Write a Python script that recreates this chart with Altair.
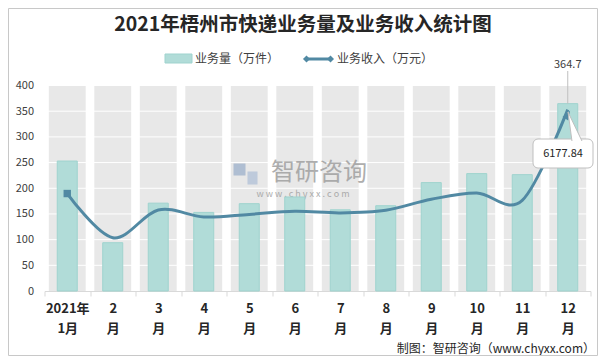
import altair as alt
import pandas as pd

# ---------------- data ----------------
months = ["2021年|1月", "2|月", "3|月", "4|月", "5|月", "6|月",
          "7|月", "8|月", "9|月", "10|月", "11|月", "12|月"]
volume = [253, 94, 171, 153, 170, 183, 158, 166, 211, 228.5, 226.5, 364.7]        # 业务量（万件）
revenue = [3320, 1815, 2760, 2520, 2610, 2715, 2660, 2750, 3125, 3340, 3090, 6177.84]  # 业务收入（万元）
y_ticks = [0, 50, 100, 150, 200, 250, 300, 350, 400]
grid_vals = [50, 100, 150, 200, 250, 300, 350, 400]

title_text = "2021年梧州市快递业务量及业务收入统计图"
legend_bar = "业务量（万件）"
legend_line = "业务收入（万元）"
source_text = "制图：智研咨询（www.chyxx.com）"

FONT = "Noto Sans CJK SC"
BAR = "#b1dcd8"
LINE = "#5189a3"

df = pd.DataFrame({"month": months, "volume": volume, "revenue": revenue})
first = df.iloc[[0]]
last = df.iloc[[-1]]
grid_df = pd.DataFrame({"v": grid_vals})
one = pd.DataFrame({"a": [0]})

x_enc = alt.X(
    "month:N", sort=None, title=None,
    scale=alt.Scale(paddingInner=0, paddingOuter=0),
    axis=alt.Axis(
        labelExpr="split(datum.label, '|')", labelAngle=0, labelFont=FONT,
        labelFontSize=13, labelFontWeight="bold", labelColor="#262626",
        labelLineHeight=20, labelPadding=6, tickBand="extent", tickSize=5,
        tickColor="#d9d9d9", domainColor="#d9d9d9", grid=False,
    ),
)
y_scale = alt.Scale(domain=[0, 400], nice=False)
y_axis = alt.Axis(values=y_ticks, labelFont=FONT, labelFontSize=11,
                  labelColor="#404040", domain=False, ticks=False,
                  grid=False, labelPadding=11, labelOverlap=False)

bg = alt.Chart(df).mark_bar(width=alt.RelativeBandSize(0.81), color="#e8e8e8").encode(
    x=x_enc,
    y=alt.YDatum(400, scale=y_scale, title=None, axis=y_axis),
    y2=alt.Y2Datum(0),
)
grid = alt.Chart(grid_df).mark_rule(color="white", strokeWidth=1).encode(
    y=alt.Y("v:Q", scale=y_scale, title=None, axis=y_axis)
)
bars = alt.Chart(df).mark_bar(
    width=alt.RelativeBandSize(0.44), color=BAR, stroke="#9fd3ce", strokeWidth=1
).encode(
    x=x_enc,
    y=alt.Y("volume:Q", scale=y_scale, title=None, axis=y_axis),
)
vol_label = alt.Chart(last).mark_text(
    font=FONT, fontSize=11, color="#404040", dy=-38.5, baseline="middle"
).encode(x=x_enc, y=alt.Y("volume:Q", scale=y_scale, title=None, axis=y_axis),
         text=alt.Text("volume:Q", format=".1f"))
leader = alt.Chart(last).mark_rule(color="#bfbfbf", strokeWidth=1).encode(
    x=x_enc, y=alt.Y("volume:Q", scale=y_scale, title=None, axis=y_axis), y2=alt.value(-14.5)
)

logo1 = alt.Chart(one).mark_rect(fill="#a9b9cf", opacity=0.9).encode(
    x=alt.value(189), x2=alt.value(201), y=alt.value(78), y2=alt.value(90))
logo2 = alt.Chart(one).mark_rect(fill="#b9c7d9", opacity=0.9).encode(
    x=alt.value(203), x2=alt.value(213), y=alt.value(86), y2=alt.value(99))
wm1 = alt.Chart(one).mark_text(
    text="智研咨询", font=FONT, fontSize=24, color="#a0a0a0", opacity=0.85
).encode(x=alt.value(274.5), y=alt.value(87))
wm2 = alt.Chart(one).mark_text(
    text="w w w . c h y x x . c o m", font=FONT, fontSize=9, color="#a0a0a0", opacity=0.85
).encode(x=alt.value(258.5), y=alt.value(108.5))

left = alt.layer(bg, grid, logo1, logo2, wm1, wm2, bars, leader, vol_label)

r_scale = alt.Scale(domain=[0, 7000], nice=False)
line = alt.Chart(df).mark_line(
    color=LINE, strokeWidth=3, interpolate="cardinal"
).encode(x=x_enc, y=alt.Y("revenue:Q", scale=r_scale, axis=None, title=None))
start = alt.Chart(first).mark_point(
    shape="square", filled=True, color=LINE, size=55, opacity=1
).encode(x=x_enc, y=alt.Y("revenue:Q", scale=r_scale, axis=None, title=None))
arrow = alt.Chart(last).mark_point(
    shape="M0,-1L0.7,1L-0.7,1Z", filled=True, color=LINE, size=90, angle=30, opacity=1
).encode(x=x_enc, y=alt.Y("revenue:Q", scale=r_scale, axis=None, title=None),
         yOffset=alt.value(5))
right = alt.layer(line, start, arrow)

# ---------------- annotations ----------------
box = alt.Chart(one).mark_rect(
    fill="white", stroke="#bfbfbf", strokeWidth=1, cornerRadius=5
).encode(x=alt.value(488.5), x2=alt.value(548.5), y=alt.value(53.5), y2=alt.value(82.5))
pointer = alt.Chart(one).mark_point(
    shape="M-0.21,1L-0.48,-1L0.48,1", filled=True, fill="white", stroke="#bfbfbf",
    strokeWidth=1, size=841, opacity=1
).encode(x=alt.value(530.5), y=alt.value(41))
box_text = alt.Chart(last).mark_text(
    font=FONT, fontSize=11, color="#262626", baseline="middle"
).encode(x=alt.value(518.5), y=alt.value(68), text=alt.Text("revenue:Q", format=".2f"))

title = alt.Chart(one).mark_text(
    text=title_text, font=FONT, fontSize=19.5, fontWeight="bold", color="#262626",
    baseline="middle"
).encode(x=alt.value(258.5), y=alt.value(-60.5))

swatch = alt.Chart(one).mark_rect(fill=BAR, stroke="#9fd3ce").encode(
    x=alt.value(120.5), x2=alt.value(147.5), y=alt.value(-31.5), y2=alt.value(-22.5))
leg1 = alt.Chart(one).mark_text(
    text=legend_bar, font=FONT, fontSize=12, color="#404040", align="left", baseline="middle"
).encode(x=alt.value(150.5), y=alt.value(-26.5))
leg_line = alt.Chart(one).mark_rule(color=LINE, strokeWidth=3).encode(
    x=alt.value(262), x2=alt.value(286), y=alt.value(-26.5))
leg_d1 = alt.Chart(one).mark_point(shape="diamond", filled=True, color=LINE, size=50, opacity=1).encode(
    x=alt.value(262), y=alt.value(-26.5))
leg_d2 = alt.Chart(one).mark_point(shape="diamond", filled=True, color=LINE, size=50, opacity=1).encode(
    x=alt.value(286), y=alt.value(-26.5))
leg2 = alt.Chart(one).mark_text(
    text=legend_line, font=FONT, fontSize=12, color="#404040", align="left", baseline="middle"
).encode(x=alt.value(292.5), y=alt.value(-26.5))

source = alt.Chart(one).mark_text(
    text=source_text, font=FONT, fontSize=12, color="#262626", align="right", baseline="middle"
).encode(x=alt.value(550.5), y=alt.value(263))

border = alt.Chart(one).mark_rect(filled=False, stroke="#c8c8c8", strokeWidth=1).encode(
    x=alt.value(-36), x2=alt.value(553), y=alt.value(-77), y2=alt.value(270))

chart = alt.layer(
    left, right, box, pointer, box_text, title, swatch, leg1, leg_line, leg_d1, leg_d2,
    leg2, source, border
).resolve_scale(y="independent").properties(
    width=546, height=205.5,
    padding={"left": 36.5, "top": 77.5, "right": 7.5, "bottom": 65},
    autosize=alt.AutoSizeParams(type="none"),
).configure_view(stroke=None)

chart.save("out.html", embed_options={"renderer": "svg", "actions": False})
